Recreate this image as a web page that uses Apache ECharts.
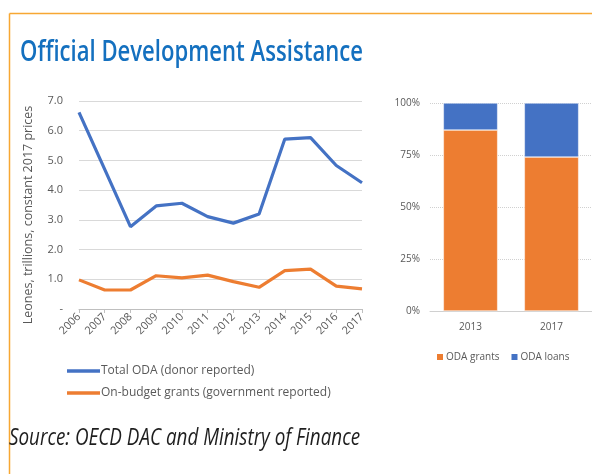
<!DOCTYPE html>
<html>
<head>
<meta charset="utf-8">
<script src="https://cdn.jsdelivr.net/npm/echarts@6/dist/echarts.min.js"></script>
<style>
  html, body { margin: 0; padding: 0; background: #fff; }
  #chart { width: 592px; height: 474px; }
</style>
</head>
<body>
<div id="chart"></div>
<script>
// Years for the ODA time series
const years = ['2006','2007','2008','2009','2010','2011','2012','2013','2014','2015','2016','2017'];
// Leones, trillions, constant 2017 prices
const totalOda = [6.62, 4.70, 2.77, 3.47, 3.56, 3.11, 2.89, 3.20, 5.72, 5.77, 4.83, 4.25];
const onBudgetGrants = [0.98, 0.64, 0.64, 1.12, 1.05, 1.14, 0.92, 0.73, 1.29, 1.34, 0.77, 0.68];

// Composition of ODA (share of total, %)
const mixYears = ['2013', '2017'];
const odaGrants = [87, 74];
const odaLoans = [13, 26];

const BLUE = '#4472C4';
const ORANGE = '#ED7D31';
const GREY_TEXT = '#595959';
const FONT = '"Open Sans", "Noto Sans", sans-serif';

const chart = echarts.init(document.getElementById('chart'), null, { renderer: 'canvas' });

chart.setOption({
  animation: false,
  textStyle: { fontFamily: FONT },
  graphic: [
    // orange frame (top and left edges)
    { type: 'line', shape: { x1: 9.5, y1: 13.5, x2: 592, y2: 13.5 }, style: { stroke: '#F7A733', lineWidth: 1.5 } },
    { type: 'line', shape: { x1: 9.5, y1: 13.5, x2: 9.5, y2: 474 }, style: { stroke: '#F7A733', lineWidth: 1.5 } },
    {
      type: 'text', left: 20, top: 38, scaleX: 0.762,
      style: { text: 'Official Development Assistance', font: '600 29px "Open Sans", sans-serif', fill: '#1470BF' }
    },
    {
      type: 'text', left: 9, top: 426, scaleX: 0.785,
      style: { text: 'Source: OECD DAC and Ministry of Finance', font: 'italic 24px "Open Sans", sans-serif', fill: '#1e1e1e' }
    }
  ],
  legend: [
    {
      data: ['Total ODA (donor reported)', 'On-budget grants (government reported)'],
      orient: 'vertical', left: 62, top: 360, itemGap: 10,
      icon: 'rect', itemWidth: 33, itemHeight: 3.5,
      textStyle: { color: GREY_TEXT, fontSize: 12, padding: [0, 0, 0, -4] }
    },
    {
      data: ['ODA grants', 'ODA loans'],
      orient: 'horizontal', left: 430, top: 347, itemGap: 10,
      icon: 'rect', itemWidth: 8, itemHeight: 8,
      textStyle: { color: GREY_TEXT, fontSize: 10, padding: [0, 0, 0, -3] }
    }
  ],
  grid: [
    { left: 79, top: 101, width: 283, height: 208 },
    { left: 430, top: 103, width: 164, height: 208 }
  ],
  xAxis: [
    {
      gridIndex: 0, type: 'category', data: years, boundaryGap: false,
      axisLine: { lineStyle: { color: '#BFBFBF' } },
      axisTick: { show: true, alignWithLabel: true, length: 4, lineStyle: { color: '#BFBFBF' } },
      axisLabel: { rotate: 45, color: GREY_TEXT, fontSize: 11, margin: 6, interval: 0 }
    },
    {
      gridIndex: 1, type: 'category', data: mixYears,
      axisLine: { lineStyle: { color: '#D0D0D0' } },
      axisTick: { show: false },
      axisLabel: { color: GREY_TEXT, fontSize: 10, margin: 11 }
    }
  ],
  yAxis: [
    {
      gridIndex: 0, type: 'value', min: 0, max: 7, interval: 1,
      name: 'Leones, trillions, constant 2017 prices', nameLocation: 'middle', nameGap: 44,
      nameTextStyle: { color: GREY_TEXT, fontSize: 12.5, padding: [0, 20, 0, 0] },
      axisLine: { show: false }, axisTick: { show: false },
      axisLabel: { color: GREY_TEXT, fontSize: 11, margin: 16,
        formatter: v => v === 0 ? '-' : v.toFixed(1) },
      splitLine: { lineStyle: { color: '#D9D9D9' } }
    },
    {
      gridIndex: 1, type: 'value', min: 0, max: 100, interval: 25,
      axisLine: { show: false }, axisTick: { show: false },
      axisLabel: { color: GREY_TEXT, fontSize: 10, margin: 10, formatter: '{value}%' },
      splitLine: { lineStyle: { color: '#D0D0D0', type: [1, 1] } }
    }
  ],
  series: [
    {
      name: 'Total ODA (donor reported)', type: 'line', xAxisIndex: 0, yAxisIndex: 0,
      data: totalOda, showSymbol: false, symbol: 'none',
      lineStyle: { color: BLUE, width: 3.2 }, itemStyle: { color: BLUE }
    },
    {
      name: 'On-budget grants (government reported)', type: 'line', xAxisIndex: 0, yAxisIndex: 0,
      data: onBudgetGrants, showSymbol: false, symbol: 'none',
      lineStyle: { color: ORANGE, width: 3.2 }, itemStyle: { color: ORANGE }
    },
    {
      name: 'ODA grants', type: 'bar', stack: 'mix', xAxisIndex: 1, yAxisIndex: 1,
      data: odaGrants, barWidth: '67%',
      itemStyle: { color: ORANGE, borderColor: '#fff', borderWidth: 0.5 }
    },
    {
      name: 'ODA loans', type: 'bar', stack: 'mix', xAxisIndex: 1, yAxisIndex: 1,
      data: odaLoans, barWidth: '67%',
      itemStyle: { color: BLUE, borderColor: '#fff', borderWidth: 0.5 }
    }
  ]
});
</script>
</body>
</html>
